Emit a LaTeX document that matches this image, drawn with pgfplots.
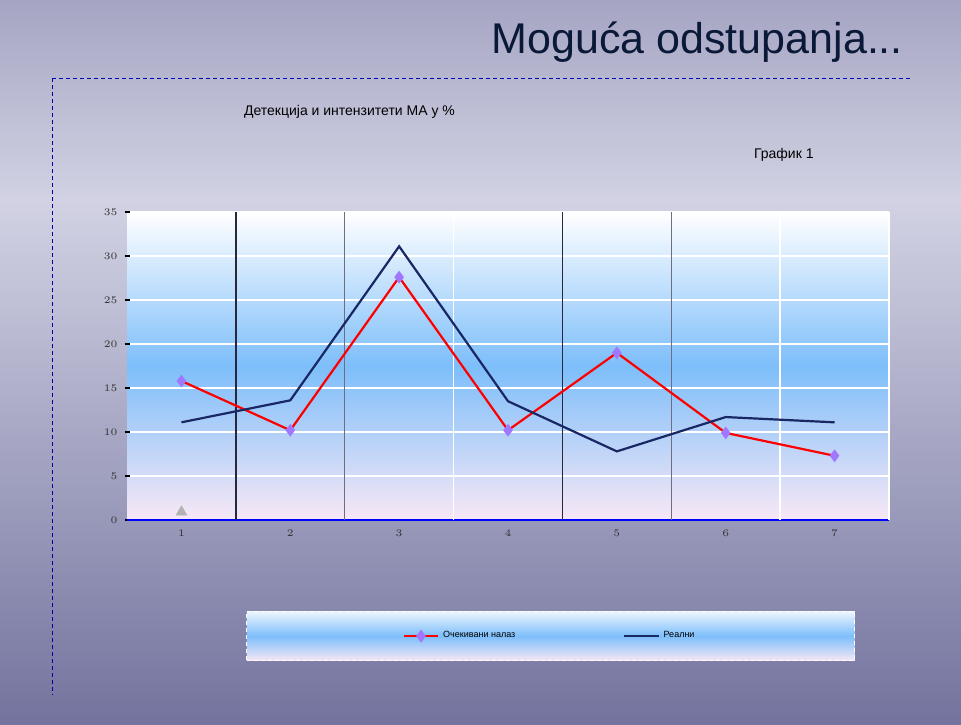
\documentclass[border=0pt]{standalone}
\usepackage{fontspec}
\setmainfont{Liberation Sans}
\usepackage{pgfplots}
\pgfplotsset{compat=1.18}

\definecolor{navyline}{RGB}{25,40,100}
\definecolor{titlecol}{RGB}{10,25,55}
\definecolor{skyblue}{RGB}{125,190,250}
\definecolor{pinkish}{RGB}{248,232,246}
\definecolor{bgtop}{RGB}{165,165,195}
\definecolor{bghor}{RGB}{210,210,228}
\definecolor{bgbot}{RGB}{115,115,158}
\definecolor{markcol}{RGB}{160,120,255}
\definecolor{sepdark}{RGB}{40,40,60}
\definecolor{sepgray}{RGB}{110,110,130}

\begin{document}
\begin{tikzpicture}
% slide background, in pixel units of the reference
\begin{scope}[x=0.5pt,y=-0.5pt]
\shade[top color=bgtop, bottom color=bghor] (0,0) rectangle (961,200);
\shade[top color=bghor, bottom color=bgbot] (0,200) rectangle (961,724);
\node[anchor=base east, text=titlecol, font=\fontsize{21.5}{24}\selectfont] at (910,53) {Moguća odstupanja...};
\draw[blue!70!black, line width=0.4pt, dash pattern=on 2pt off 1.5pt] (52,78) -- (910,78);
\draw[blue!70!black, line width=0.4pt, dash pattern=on 2pt off 1.5pt] (52,78) -- (52,695);
\node[anchor=base west, font=\fontsize{7}{8}\selectfont] at (237,115) {Детекција и интензитети МА у \%};
\node[anchor=base west, font=\fontsize{7}{8}\selectfont] at (747,158) {График 1};
\end{scope}

\begin{axis}[
    at={(63.5pt,-260pt)}, anchor=south west,
    width=381pt, height=154pt, scale only axis,
    xmin=0.5, xmax=7.5, ymin=0, ymax=35,
    xtick={1,...,7}, ytick={0,5,...,35},
    tick label style={font=\fontsize{4}{5}\selectfont, text=black!80},
    xtick style={draw=none},
    ytick style={black, line width=0.6pt},
    major tick length=2.5pt, tick align=outside,
    axis lines=left,
    x axis line style={blue, line width=1pt, -},
    y axis line style={draw=none},
    axis background/.style={shade, top color=white, bottom color=pinkish, middle color=skyblue},
    ymajorgrids, grid style={white, line width=0.8pt},
    clip=false,
    legend columns=2,
    legend style={at={(0.556,-0.377)}, anchor=center,
        draw=white, dash pattern=on 2pt off 1.5pt, line width=0.6pt,
        top color=white!85!skyblue, bottom color=pinkish, middle color=skyblue,
        inner xsep=78pt, inner ysep=8pt,
        font=\fontsize{4.5}{5}\selectfont,
        /tikz/every even column/.append style={column sep=52pt}},
    legend cell align=left,
]
% category separators
\draw[sepdark, line width=0.7pt] (axis cs:1.5,0) -- (axis cs:1.5,35);
\draw[sepgray, line width=0.7pt] (axis cs:2.5,0) -- (axis cs:2.5,35);
\draw[white, line width=0.7pt] (axis cs:3.5,0) -- (axis cs:3.5,35);
\draw[sepdark, line width=0.7pt] (axis cs:4.5,0) -- (axis cs:4.5,35);
\draw[sepgray, line width=0.7pt] (axis cs:5.5,0) -- (axis cs:5.5,35);
\draw[white, line width=0.7pt] (axis cs:6.5,0) -- (axis cs:6.5,35);
\draw[white, line width=0.8pt] (axis cs:7.5,0) -- (axis cs:7.5,35);

\addplot[red, line width=1.1pt, mark=diamond*, mark size=2.3pt,
    mark options={fill=markcol, draw=markcol, solid}] coordinates {
    (1,15.8) (2,10.2) (3,27.6) (4,10.2) (5,19.0) (6,9.9) (7,7.3)
};
\addlegendentry{Очекивани налаз}
\addplot[navyline, line width=1.1pt, no marks] coordinates {
    (1,11.1) (2,13.6) (3,31.1) (4,13.5) (5,7.8) (6,11.7) (7,11.1)
};
\addlegendentry{Реални}
\addplot[only marks, mark=triangle*, mark size=3pt, color=gray!60, forget plot] coordinates {
    (1,0.9)
};
\end{axis}
\end{tikzpicture}
\end{document}
